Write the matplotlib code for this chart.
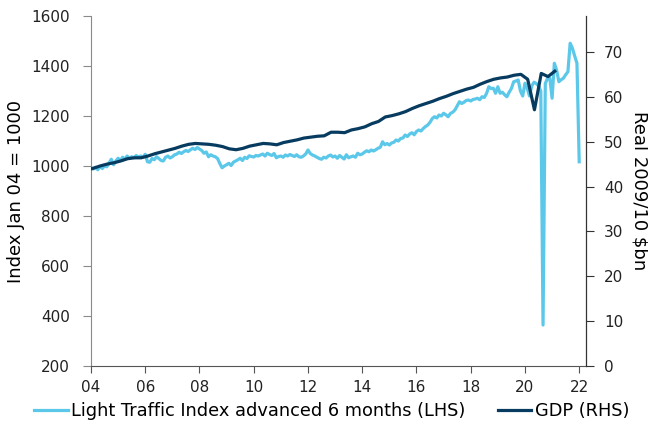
import numpy as np
import matplotlib
matplotlib.use("Agg")
import matplotlib.pyplot as plt

plt.rcParams['font.family'] = ['DejaVu Sans']
plt.rcParams['font.size'] = 11

# Light traffic index (monthly, Jan 2004 .. Jan 2022), advanced 6 months
traffic = [
    993, 988, 995, 985, 998, 990, 1000, 997, 1012, 1027, 1005, 1020,    # 2004
    1031, 1022, 1035, 1028, 1040, 1030, 1037, 1033, 1042, 1036, 1040, 1035,  # 2005
    1047, 1017, 1015, 1030, 1025, 1037, 1030, 1022, 1020, 1035, 1040, 1032,  # 2006
    1037, 1045, 1048, 1055, 1050, 1057, 1062, 1058, 1065, 1071, 1066, 1074,  # 2007
    1068, 1062, 1051, 1056, 1037, 1045, 1040, 1037, 1030, 1010, 993, 1000,   # 2008
    1005, 1011, 1002, 1015, 1020, 1025, 1031, 1022, 1035, 1030, 1041, 1038,  # 2009
    1036, 1042, 1040, 1044, 1048, 1040, 1051, 1046, 1042, 1050, 1033, 1038,  # 2010
    1040, 1035, 1044, 1040, 1046, 1042, 1038, 1045, 1037, 1035, 1040, 1048,  # 2011
    1064, 1050, 1044, 1040, 1035, 1030, 1027, 1035, 1032, 1040, 1044, 1036,  # 2012
    1040, 1031, 1042, 1035, 1028, 1045, 1033, 1037, 1040, 1035, 1051, 1045,  # 2013
    1048, 1055, 1061, 1057, 1064, 1060, 1065, 1071, 1075, 1097, 1085, 1090,  # 2014
    1084, 1092, 1095, 1104, 1100, 1110, 1112, 1124, 1118, 1128, 1133, 1125,  # 2015
    1138, 1144, 1140, 1150, 1158, 1164, 1175, 1190, 1197, 1192, 1204, 1200,  # 2016
    1211, 1205, 1197, 1210, 1215, 1224, 1240, 1257, 1250, 1255, 1262, 1264,  # 2017
    1260, 1266, 1268, 1271, 1265, 1277, 1274, 1290, 1317, 1310, 1311, 1291,  # 2018
    1317, 1291, 1295, 1285, 1277, 1295, 1310, 1337, 1340, 1344, 1300, 1280,  # 2019
    1331, 1311, 1280, 1320, 1335, 1330, 1320, 1300, 364, 1330, 1351, 1351,   # 2020
    1271, 1411, 1384, 1337, 1345, 1351, 1365, 1377, 1491, 1471, 1440, 1411,  # 2021
    1017,                                                                    # 2022
]
traffic_x = 2004 + np.arange(len(traffic)) / 12

# GDP (quarterly, real 2009/10 $bn)
gdp = [
    43.7, 44.1, 44.6, 45.0, 45.3, 45.7, 46.2, 46.4, 46.4, 46.8,
    47.3, 47.7, 48.1, 48.5, 49.0, 49.4, 49.6, 49.5, 49.4, 49.2,
    48.9, 48.4, 48.2, 48.5, 49.0, 49.3, 49.6, 49.5, 49.3, 49.8,
    50.1, 50.4, 50.8, 51.0, 51.2, 51.3, 52.1, 52.1, 52.0, 52.6,
    52.9, 53.3, 54.0, 54.5, 55.5, 55.8, 56.2, 56.7, 57.4, 58.0,
    58.5, 59.0, 59.6, 60.1, 60.7, 61.2, 61.7, 62.1, 62.8, 63.4,
    63.9, 64.2, 64.4, 64.8, 65.0, 63.9, 57.1, 65.2, 64.5, 65.7,
]
gdp_x = 2003.85 + 0.25 * np.arange(len(gdp))

year_ticks = list(range(2004, 2023, 2))
year_labels = ['04', '06', '08', '10', '12', '14', '16', '18', '20', '22']

LIGHT = '#5BC8EA'
NAVY = '#073B5F'

fig = plt.figure(figsize=(6.48, 4.30), dpi=100)
ax = fig.add_axes([0.1404, 0.1488, 0.7639, 0.814])
ax2 = ax.twinx()

l1, = ax.plot(traffic_x, traffic, color=LIGHT, lw=2.3,
              label='Light Traffic Index advanced 6 months (LHS)')
l2, = ax2.plot(gdp_x, gdp, color=NAVY, lw=2.3, label='GDP (RHS)')

ax.set_xlim(2004, 2022.25)
ax.set_ylim(200, 1600)
ax2.set_ylim(0, 78)
ax.set_yticks(range(200, 1601, 200))
ax2.set_yticks(range(0, 71, 10))
ax.set_xticks(year_ticks)
ax.set_xticklabels(year_labels)

ax.set_ylabel('Index Jan 04 = 1000', fontsize=13, labelpad=5)
ax2.set_ylabel('Real 2009/10 $bn', rotation=270, fontsize=13, labelpad=18)

for a in (ax, ax2):
    a.spines['top'].set_visible(False)
ax.spines['left'].set_color('#8a8a8a')
ax.spines['bottom'].set_color('#555555')
ax2.spines['right'].set_color('#333333')
ax2.spines['left'].set_visible(False)
ax2.spines['bottom'].set_visible(False)
ax.tick_params(axis='y', colors='#8a8a8a', labelcolor='#222222', length=6, pad=9)
ax.tick_params(axis='x', colors='#555555', labelcolor='#222222', length=5, pad=5)
ax2.tick_params(axis='y', colors='#333333', labelcolor='#222222', length=6, pad=7)

fig.legend(handles=[l1, l2], loc='center', bbox_to_anchor=(0.512, 0.044),
           ncol=2, frameon=False, handlelength=1.9, handletextpad=0.2,
           columnspacing=1.8, fontsize=12.8)

fig.savefig('out.png', dpi=100)
